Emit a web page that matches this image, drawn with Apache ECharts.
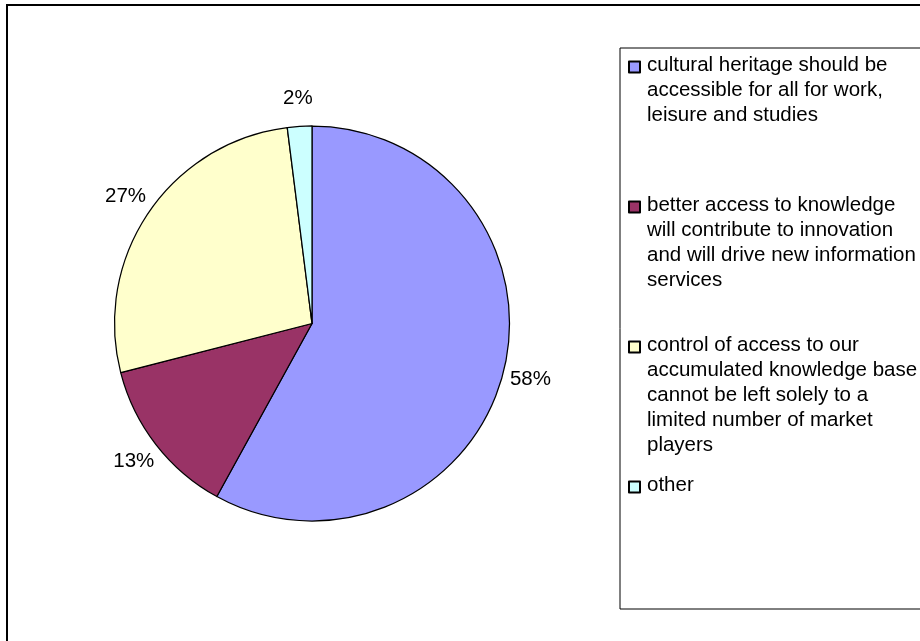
<!DOCTYPE html>
<html>
<head>
<meta charset="utf-8">
<script src="https://cdn.jsdelivr.net/npm/echarts@6/dist/echarts.min.js"></script>
<style>
  html, body { margin: 0; padding: 0; background: #ffffff; }
  #chart { width: 920px; height: 641px; }
</style>
</head>
<body>
<div id="chart"></div>
<script>
// Legend entries, already broken into the lines they are shown on
const legendLines = [
  ['cultural heritage should be', 'accessible for all for work,', 'leisure and studies'],
  ['better access to knowledge', 'will contribute to innovation', 'and will drive new information', 'services'],
  ['control of access to our', 'accumulated knowledge base', 'cannot be left solely to a', 'limited number of market', 'players'],
  ['other']
];
const categories = legendLines.map(function (lines) { return lines.join(' '); });

// Share of answers per category, in percent
const shares = [58, 13, 27, 2];

const sliceColors = ['#9999FF', '#993366', '#FFFFCC', '#CCFFFF'];

const FONT = '"Liberation Sans", Arial, Helvetica, sans-serif';
const LINE_H = 25;
const LINES_PER_ENTRY = Math.max.apply(null, legendLines.map(function (l) { return l.length; }));

const chart = echarts.init(document.getElementById('chart'), null, { renderer: 'canvas' });

chart.setOption({
  animation: false,
  backgroundColor: '#ffffff',
  textStyle: { fontFamily: FONT },
  graphic: [{
    type: 'rect',
    z: -10,
    silent: true,
    shape: { x: 7, y: 5, width: 2000, height: 2000 },
    style: { fill: 'none', stroke: '#000000', lineWidth: 2 }
  }],
  legend: {
    orient: 'vertical',
    left: 620,
    top: 48,
    padding: [4, 8, 10, 8],
    itemWidth: 13,
    itemHeight: LINES_PER_ENTRY * LINE_H,
    itemGap: 13,
    // small square at the first text line; the extra move-to points only stretch the icon box
    icon: 'path://M0 0M0 8.5h11v11h-11zM13 ' + (LINES_PER_ENTRY * LINE_H),
    selectedMode: false,
    backgroundColor: '#ffffff',
    borderColor: '#000000',
    borderWidth: 1,
    textStyle: { fontFamily: FONT, fontSize: 20.5, lineHeight: LINE_H, color: '#000000' },
    formatter: function (name) {
      const lines = legendLines[categories.indexOf(name)].slice();
      while (lines.length < LINES_PER_ENTRY) lines.push('');
      return lines.join('\n');
    },
    data: categories
  },
  series: [{
    type: 'pie',
    center: [312, 323.5],
    radius: 197.5,
    startAngle: 90,
    clockwise: true,
    avoidLabelOverlap: false,
    silent: true,
    itemStyle: { borderColor: '#000000', borderWidth: 1.25 },
    label: {
      show: true,
      position: 'outside',
      formatter: '{d}%',
      fontFamily: FONT,
      fontSize: 20.5,
      color: '#000000'
    },
    labelLine: {
      show: true,
      length: 28,
      length2: 0,
      lineStyle: { opacity: 0 }
    },
    // centre each percentage on the radial line through its slice
    labelLayout: function (params) {
      const pts = params.labelLinePoints;
      if (!pts) return {};
      return { x: pts[1][0], y: pts[1][1], align: 'center', verticalAlign: 'middle' };
    },
    data: categories.map(function (name, i) {
      return { name: name, value: shares[i], itemStyle: { color: sliceColors[i] } };
    })
  }]
});
</script>
</body>
</html>
